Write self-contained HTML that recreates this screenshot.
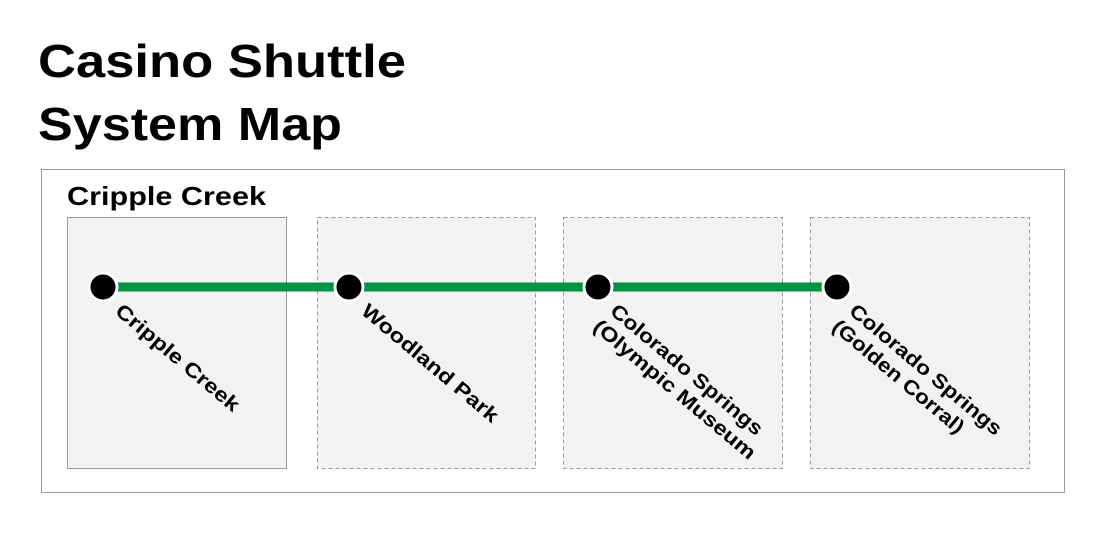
<!DOCTYPE html>
<html><head><meta charset="utf-8"><style>
body{margin:0;background:#fff;}
svg{display:block;font-family:"Liberation Sans",sans-serif;}
</style></head><body>
<svg width="1106" height="540" viewBox="0 0 1106 540">
<text x="38" y="77" font-size="46" font-weight="bold" fill="#000" textLength="368" lengthAdjust="spacingAndGlyphs">Casino Shuttle</text>
<text x="38" y="140" font-size="46" font-weight="bold" fill="#000" textLength="304" lengthAdjust="spacingAndGlyphs">System Map</text>
<rect x="41.5" y="169.5" width="1023" height="323" fill="#fff" stroke="#999" stroke-width="1"/>
<text x="67" y="205" font-size="26" font-weight="bold" fill="#000" textLength="199" lengthAdjust="spacingAndGlyphs">Cripple Creek</text>
<rect x="67.5" y="217.5" width="219" height="251" fill="#f2f2f2" stroke="#999"/>
<rect x="317.5" y="217.5" width="218" height="251" fill="#f2f2f2" stroke="#999" stroke-dasharray="4,3"/>
<rect x="563.5" y="217.5" width="219" height="251" fill="#f2f2f2" stroke="#999" stroke-dasharray="4,3"/>
<rect x="810.5" y="217.5" width="219" height="251" fill="#f2f2f2" stroke="#999" stroke-dasharray="4,3"/>
<line x1="103" y1="287" x2="837" y2="287" stroke="#009245" stroke-width="9"/>
<g fill="#000" stroke="#fff" stroke-width="3">
<circle cx="103" cy="287" r="14"/><circle cx="349" cy="287" r="14"/>
<circle cx="598" cy="287" r="14"/><circle cx="837" cy="287" r="14"/>
</g>
<g font-size="20" font-weight="bold" fill="#000">
<text transform="translate(114,313) rotate(40)" textLength="155" lengthAdjust="spacingAndGlyphs">Cripple Creek</text>
<text transform="translate(360,313) rotate(40)" textLength="172" lengthAdjust="spacingAndGlyphs">Woodland Park</text>
<g transform="translate(609,313) rotate(40)"><text textLength="192" lengthAdjust="spacingAndGlyphs">Colorado Springs</text><text x="-3" y="23" textLength="205" lengthAdjust="spacingAndGlyphs">(Olympic Museum</text></g>
<g transform="translate(848,313) rotate(40)"><text textLength="192" lengthAdjust="spacingAndGlyphs">Colorado Springs</text><text x="-3" y="23" textLength="165" lengthAdjust="spacingAndGlyphs">(Golden Corral)</text></g>
</g>
</svg>
</body></html>
